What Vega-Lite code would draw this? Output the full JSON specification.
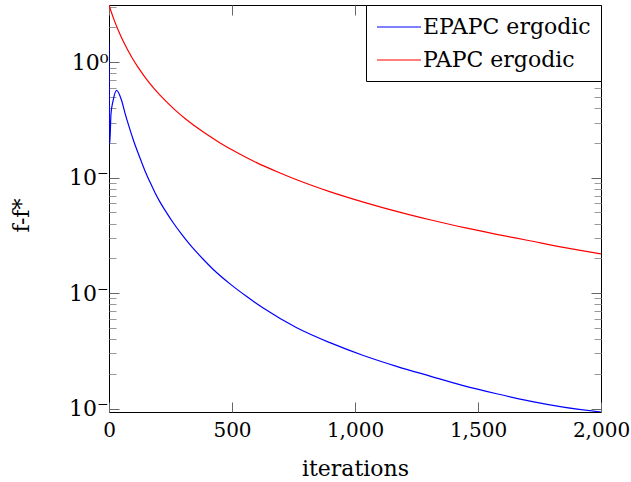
{
  "$schema": "https://vega.github.io/schema/vega-lite/v6.json",
  "width": 492,
  "height": 407,
  "autosize": {"type": "none"},
  "padding": {"left": 109, "top": 5, "right": 30, "bottom": 70},
  "config": {
    "view": {"stroke": "black", "strokeWidth": 1},
    "font": "DejaVu Serif",
    "axis": {"domain": false, "grid": false, "labelFont": "DejaVu Serif", "titleFont": "DejaVu Serif", "labelColor": "black", "titleColor": "black", "titleFontWeight": "normal", "labelFontSize": 22, "titleFontSize": 22}
  },
  "data": {"values": [
    {"it": 0, "val": 1.455, "series": "EPAPC ergodic"},
    {"it": 3, "val": 0.196, "series": "EPAPC ergodic"},
    {"it": 8, "val": 0.355, "series": "EPAPC ergodic"},
    {"it": 17, "val": 0.468, "series": "EPAPC ergodic"},
    {"it": 31, "val": 0.571, "series": "EPAPC ergodic"},
    {"it": 51, "val": 0.468, "series": "EPAPC ergodic"},
    {"it": 65, "val": 0.363, "series": "EPAPC ergodic"},
    {"it": 79, "val": 0.288, "series": "EPAPC ergodic"},
    {"it": 100, "val": 0.209, "series": "EPAPC ergodic"},
    {"it": 126, "val": 0.148, "series": "EPAPC ergodic"},
    {"it": 146, "val": 0.1148, "series": "EPAPC ergodic"},
    {"it": 167, "val": 0.0912, "series": "EPAPC ergodic"},
    {"it": 187, "val": 0.0741, "series": "EPAPC ergodic"},
    {"it": 207, "val": 0.0617, "series": "EPAPC ergodic"},
    {"it": 230, "val": 0.0513, "series": "EPAPC ergodic"},
    {"it": 261, "val": 0.0407, "series": "EPAPC ergodic"},
    {"it": 295, "val": 0.0324, "series": "EPAPC ergodic"},
    {"it": 329, "val": 0.0263, "series": "EPAPC ergodic"},
    {"it": 380, "val": 0.01995, "series": "EPAPC ergodic"},
    {"it": 424, "val": 0.01603, "series": "EPAPC ergodic"},
    {"it": 492, "val": 0.01202, "series": "EPAPC ergodic"},
    {"it": 560, "val": 0.00933, "series": "EPAPC ergodic"},
    {"it": 627, "val": 0.00741, "series": "EPAPC ergodic"},
    {"it": 763, "val": 0.00501, "series": "EPAPC ergodic"},
    {"it": 898, "val": 0.00372, "series": "EPAPC ergodic"},
    {"it": 1034, "val": 0.00288, "series": "EPAPC ergodic"},
    {"it": 1169, "val": 0.00232, "series": "EPAPC ergodic"},
    {"it": 1305, "val": 0.00191, "series": "EPAPC ergodic"},
    {"it": 1440, "val": 0.00158, "series": "EPAPC ergodic"},
    {"it": 1576, "val": 0.001343, "series": "EPAPC ergodic"},
    {"it": 1711, "val": 0.001161, "series": "EPAPC ergodic"},
    {"it": 1847, "val": 0.00103, "series": "EPAPC ergodic"},
    {"it": 2000, "val": 0.000933, "series": "EPAPC ergodic"},
    {"it": 0, "val": 3.133, "series": "PAPC ergodic"},
    {"it": 10, "val": 2.698, "series": "PAPC ergodic"},
    {"it": 20, "val": 2.35, "series": "PAPC ergodic"},
    {"it": 38, "val": 1.884, "series": "PAPC ergodic"},
    {"it": 65, "val": 1.416, "series": "PAPC ergodic"},
    {"it": 92, "val": 1.109, "series": "PAPC ergodic"},
    {"it": 119, "val": 0.897, "series": "PAPC ergodic"},
    {"it": 146, "val": 0.744, "series": "PAPC ergodic"},
    {"it": 187, "val": 0.579, "series": "PAPC ergodic"},
    {"it": 228, "val": 0.467, "series": "PAPC ergodic"},
    {"it": 268, "val": 0.387, "series": "PAPC ergodic"},
    {"it": 309, "val": 0.326, "series": "PAPC ergodic"},
    {"it": 382, "val": 0.2495, "series": "PAPC ergodic"},
    {"it": 450, "val": 0.201, "series": "PAPC ergodic"},
    {"it": 518, "val": 0.166, "series": "PAPC ergodic"},
    {"it": 600, "val": 0.135, "series": "PAPC ergodic"},
    {"it": 693, "val": 0.1104, "series": "PAPC ergodic"},
    {"it": 763, "val": 0.0959, "series": "PAPC ergodic"},
    {"it": 900, "val": 0.0753, "series": "PAPC ergodic"},
    {"it": 1034, "val": 0.0614, "series": "PAPC ergodic"},
    {"it": 1200, "val": 0.049, "series": "PAPC ergodic"},
    {"it": 1305, "val": 0.0432, "series": "PAPC ergodic"},
    {"it": 1450, "val": 0.0367, "series": "PAPC ergodic"},
    {"it": 1576, "val": 0.0323, "series": "PAPC ergodic"},
    {"it": 1700, "val": 0.0287, "series": "PAPC ergodic"},
    {"it": 1847, "val": 0.0249, "series": "PAPC ergodic"},
    {"it": 2000, "val": 0.0219, "series": "PAPC ergodic"}
  ]},
  "layer": [
    {
      "mark": {"type": "line", "strokeWidth": 1.2, "interpolate": "monotone", "clip": true},
      "encoding": {
        "x": {"field": "it", "type": "quantitative", "scale": {"domain": [0, 2000], "nice": false, "zero": false},
          "axis": {"orient": "bottom", "title": "iterations", "values": [0, 500, 1000, 1500, 2000], "format": ",d", "tickSize": -10, "tickColor": "#666", "labelFontSize": 20, "labelPadding": 18, "titleBaseline": "alphabetic", "titleY": 63, "labelFlush": false}},
        "y": {"field": "val", "type": "quantitative", "scale": {"type": "log", "domain": [0.000933, 3.133], "nice": false},
          "axis": {"orient": "left", "title": "f-f*", "titleAngle": -90, "titleBaseline": "alphabetic", "titleX": -81, "titleY": 210, "titleAlign": "center",
            "values": [0.001, 0.002, 0.003, 0.004, 0.005, 0.006, 0.007, 0.008, 0.009, 0.01, 0.02, 0.03, 0.04, 0.05, 0.06, 0.07, 0.08, 0.09, 0.1, 0.2, 0.3, 0.4, 0.5, 0.6, 0.7, 0.8, 0.9, 1, 2, 3],
            "labelExpr": "abs(log(datum.value)/LN10 - round(log(datum.value)/LN10)) < 0.001 ? (datum.value > 0.5 ? '10⁰' : '10⁻\u2002') : ''",
            "labelOverlap": false, "labelPadding": 11, "labelFlush": false,
            "tickSize": {"condition": {"test": "abs(log(datum.value)/LN10 - round(log(datum.value)/LN10)) < 0.001", "value": -10}, "value": -7},
            "tickColor": {"condition": {"test": "abs(log(datum.value)/LN10 - round(log(datum.value)/LN10)) < 0.001", "value": "#666"}, "value": "#999"}}},
        "color": {"field": "series", "type": "nominal", "scale": {"domain": ["EPAPC ergodic", "PAPC ergodic"], "range": ["#0000ff", "#ff0000"]},
          "legend": {"orient": "top-right", "offset": 0, "title": null, "strokeColor": "black", "fillColor": "white", "padding": 10, "cornerRadius": 0,
            "symbolType": "M -1 0 H 3", "symbolSize": 484, "symbolStrokeWidth": 1.2, "labelOffset": 23, "labelFont": "DejaVu Serif", "labelFontSize": 22, "labelLimit": 400, "labelColor": "black", "rowPadding": 10}}
      }
    },
    {
      "mark": {"type": "line", "strokeOpacity": 0},
      "encoding": {
        "detail": {"field": "series"},
        "x": {"field": "it", "type": "quantitative", "scale": {"domain": [0, 2000], "nice": false, "zero": false},
          "axis": {"orient": "top", "title": null, "labels": false, "values": [0, 500, 1000, 1500, 2000], "tickSize": -10, "tickColor": "#666"}},
        "y": {"field": "val", "type": "quantitative", "scale": {"type": "log", "domain": [0.000933, 3.133], "nice": false},
          "axis": {"orient": "right", "title": null, "labels": false,
            "values": [0.001, 0.002, 0.003, 0.004, 0.005, 0.006, 0.007, 0.008, 0.009, 0.01, 0.02, 0.03, 0.04, 0.05, 0.06, 0.07, 0.08, 0.09, 0.1, 0.2, 0.3, 0.4, 0.5, 0.6, 0.7, 0.8, 0.9, 1, 2, 3],
            "tickSize": {"condition": {"test": "abs(log(datum.value)/LN10 - round(log(datum.value)/LN10)) < 0.001", "value": -10}, "value": -7},
            "tickColor": {"condition": {"test": "abs(log(datum.value)/LN10 - round(log(datum.value)/LN10)) < 0.001", "value": "#666"}, "value": "#999"}}}
      }
    }
  ],
  "resolve": {"axis": {"x": "independent", "y": "independent"}}
}
